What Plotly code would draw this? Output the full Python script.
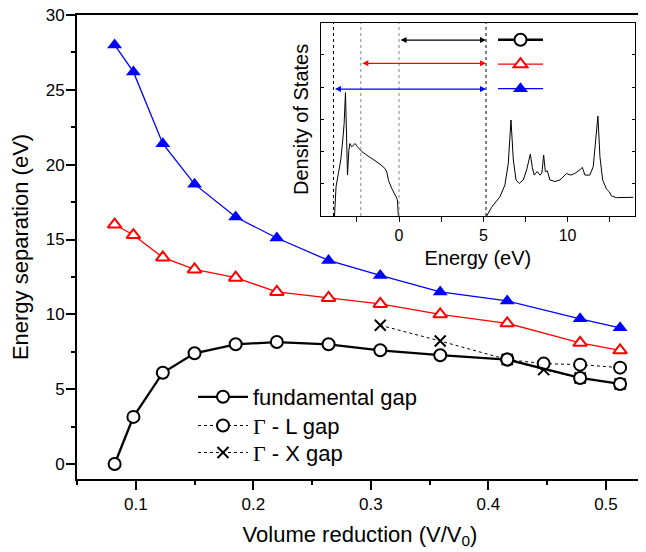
import plotly.graph_objects as go

# ---------------- data ----------------
volume = [0.082, 0.098, 0.123, 0.150, 0.185, 0.220, 0.264, 0.308, 0.359, 0.416, 0.478, 0.512]
gap_blue = [28.0, 26.2, 21.4, 18.7, 16.5, 15.1, 13.6, 12.6, 11.5, 10.9, 9.7, 9.1]
gap_red = [16.0, 15.3, 13.8, 13.0, 12.45, 11.5, 11.1, 10.7, 10.0, 9.4, 8.1, 7.6]
gap_fund = [0.0, 3.15, 6.1, 7.4, 8.0, 8.15, 8.0, 7.6, 7.27, 6.98, 5.75, 5.35]

volume_gl = [0.416, 0.447, 0.478, 0.512]
gap_gl = [6.98, 6.71, 6.64, 6.44]

volume_gx = [0.308, 0.359, 0.416, 0.447, 0.478, 0.512]
gap_gx = [9.27, 8.22, 6.98, 6.31, 5.75, 5.35]

GAMMA = '<span style="font-family:Liberation Serif, Times New Roman, serif">\u0393</span>'
legend_names = ["fundamental gap", GAMMA + " - L gap", GAMMA + " - X gap"]

# inset: density of states
dos_energy = [-3.83, -3.74, -3.60, -3.46, -3.34, -3.26, -3.18, -3.12, -3.06, -2.98, -2.92,
              -2.81, -2.61, -2.47, -2.21, -1.92, -1.52, -1.13, -0.83, -0.73, -0.63, -0.43,
              -0.18, -0.10, -0.04,
              None,
              5.20, 5.49, 5.99, 6.28, 6.48, 6.64, 6.78, 6.94, 7.13, 7.37, 7.57, 7.79, 7.91,
              8.02, 8.20, 8.36, 8.47, 8.58, 8.68, 8.80, 8.95, 9.25, 9.55, 9.74, 9.94, 10.18,
              10.43, 10.73, 10.87, 11.03, 11.32, 11.52, 11.68, 11.80, 11.92, 12.08, 12.31,
              12.47, 12.61, 12.90, 13.90]
dos_value = [0.0, 0.91, 1.32, 1.74, 2.36, 2.87, 3.83, 2.77, 1.27, 2.03, 2.25,
             2.15, 2.25, 2.15, 2.00, 1.89, 1.75, 1.61, 1.47, 1.37, 1.11, 0.85,
             0.60, 0.50, 0.0,
             None,
             0.0, 0.27, 0.60, 0.96, 1.63, 2.98, 1.74, 1.12, 1.01, 1.12, 1.43, 1.92, 1.50,
             1.27, 1.38, 1.27, 1.32, 1.89, 1.38, 1.40, 1.12, 1.07, 1.12, 1.22, 1.32, 1.27,
             1.32, 1.43, 1.51, 1.27, 1.27, 1.53, 2.36, 3.10, 1.84, 1.12, 0.83,
             0.75, 0.62, 0.57, 0.58]

level_energy = [-3.89, -2.27, 0.0, 5.16]
level_colour = ["black", "#888888", "#888888", "black"]

arrow_start = [0.0, -2.27, -3.89]
arrow_end = [5.16, 5.16, 5.16]
arrow_height = [5.46, 4.74, 3.94]
arrow_colour = ["black", "red", "blue"]

FONT = "Liberation Sans, Arial, sans-serif"

# page body has an 8px margin: the figure is sized so that it fits the 646x552 window
PAGE_OFF = 8
FIG_W, FIG_H = 646 - PAGE_OFF, 552 - PAGE_OFF
PLOT_L, PLOT_R, PLOT_T, PLOT_B = 77, 643, 15, 479  # window pixels of the main plot frame


def px(wx):
    return (wx - PLOT_L) / (PLOT_R - PLOT_L)


def py(wy):
    return (PLOT_B - wy) / (PLOT_B - PLOT_T)


fig = go.Figure()

# ---------------- main plot traces ----------------
fig.add_trace(go.Scatter(
    x=volume, y=gap_blue, mode="lines+markers", xaxis="x", yaxis="y",
    line=dict(color="blue", width=1.3),
    marker=dict(symbol="triangle-up", size=13, color="blue"),
    legend="legend2", name=" ", legendrank=3, showlegend=True))
fig.add_trace(go.Scatter(
    x=volume, y=gap_red, mode="lines+markers", xaxis="x", yaxis="y",
    line=dict(color="red", width=1.3),
    marker=dict(symbol="triangle-up", size=12, color="white", line=dict(color="red", width=2)),
    legend="legend2", name=" ", legendrank=2, showlegend=True))
fig.add_trace(go.Scatter(
    x=volume_gx, y=gap_gx, mode="lines+markers", xaxis="x", yaxis="y",
    line=dict(color="black", width=1, dash="dot"),
    marker=dict(symbol="x-thin", size=11, color="black", line=dict(color="black", width=2)),
    legend="legend4", name=legend_names[2]))
fig.add_trace(go.Scatter(
    x=volume_gl, y=gap_gl, mode="lines+markers", xaxis="x", yaxis="y",
    line=dict(color="black", width=1, dash="dot"),
    marker=dict(symbol="circle", size=12, color="white", line=dict(color="black", width=2)),
    legend="legend3", name=legend_names[1]))
fig.add_trace(go.Scatter(
    x=volume, y=gap_fund, mode="lines+markers", xaxis="x", yaxis="y",
    line=dict(color="black", width=2.3),
    marker=dict(symbol="circle", size=12, color="white", line=dict(color="black", width=2)),
    legend="legend", name=legend_names[0]))
# legend key for the inset (black circle line)
fig.add_trace(go.Scatter(
    x=[None], y=[None], mode="lines+markers", xaxis="x", yaxis="y",
    line=dict(color="black", width=2.3),
    marker=dict(symbol="circle", size=12, color="white", line=dict(color="black", width=2)),
    legend="legend2", name=" ", legendrank=1, showlegend=True))

# ---------------- inset traces ----------------
fig.add_trace(go.Scatter(
    x=dos_energy, y=dos_value, mode="lines", xaxis="x2", yaxis="y2",
    line=dict(color="black", width=1), showlegend=False, connectgaps=False))

shapes = []
for e, c in zip(level_energy, level_colour):
    shapes.append(dict(type="line", xref="x2", yref="y2 domain", x0=e, x1=e, y0=0, y1=1,
                       line=dict(color=c, width=1, dash="dot")))

annotations = []
for s, e, h, c in zip(arrow_start, arrow_end, arrow_height, arrow_colour):
    annotations.append(dict(
        xref="x2", yref="y2", axref="x2", ayref="y2",
        x=e, y=h, ax=s, ay=h, text="", showarrow=True,
        arrowhead=2, startarrowhead=2, arrowside="end+start",
        arrowsize=1, arrowwidth=1.2, arrowcolor=c, standoff=0, startstandoff=0))

# ---------------- layout ----------------
fig.update_layout(
    width=FIG_W, height=FIG_H,
    margin=dict(l=PLOT_L - PAGE_OFF, r=646 - PLOT_R, t=PLOT_T - PAGE_OFF,
                b=552 - PLOT_B, autoexpand=False),
    paper_bgcolor="white", plot_bgcolor="white",
    font=dict(family=FONT, color="black", size=17),
    shapes=shapes, annotations=annotations,
    xaxis=dict(
        domain=[0, 1], anchor="y", showgrid=False, zeroline=False,
        range=[0.05, 0.5315], tick0=0, dtick=0.1,
        showline=True, linecolor="black", linewidth=2, mirror=True,
        ticks="outside", ticklen=9, tickwidth=2, tickcolor="black",
        minor=dict(dtick=0.05, ticks="outside", ticklen=4, tickwidth=2, tickcolor="black"),
        tickfont=dict(size=17, color="black"), ticklabelstandoff=0,
        title=dict(text="Volume reduction (V/V<sub>0</sub>)", font=dict(size=22), standoff=13)),
    yaxis=dict(
        domain=[0, 1], anchor="x", showgrid=False, zeroline=False,
        range=[-1.0, 30.0], tick0=0, dtick=5,
        showline=True, linecolor="black", linewidth=2, mirror=True,
        ticks="outside", ticklen=9, tickwidth=2, tickcolor="black",
        minor=dict(dtick=2.5, ticks="outside", ticklen=4, tickwidth=2, tickcolor="black"),
        tickfont=dict(size=17, color="black"), ticklabelstandoff=-2,
        ticklabeloverflow="allow",
        title=dict(text="Energy separation (eV)", font=dict(size=22), standoff=13)),
    xaxis2=dict(
        domain=[px(320.7), px(635)], anchor="y2", showgrid=False, zeroline=False,
        range=[-4.65, 14.0], tick0=0, dtick=5,
        showline=True, linecolor="black", linewidth=1, mirror=True,
        ticks="outside", ticklen=5, tickwidth=1, tickcolor="black",
        minor=dict(dtick=2.5, ticks="outside", ticklen=5, tickwidth=1, tickcolor="black"),
        tickfont=dict(size=16, color="black"),
        title=dict(text="Energy (eV)", font=dict(size=20), standoff=7)),
    yaxis2=dict(
        domain=[py(216), py(22.7)], anchor="x2", showgrid=False, zeroline=False,
        range=[0, 6.0], dtick=1,
        showline=True, linecolor="black", linewidth=1, mirror="ticks",
        ticks="inside", ticklen=3, tickwidth=1, tickcolor="black", showticklabels=False,
        title=dict(text="Density of States", font=dict(size=20), standoff=5)),
    legend=dict(x=px(198 - 5), y=py(397), xanchor="left", yanchor="middle",
                bgcolor="rgba(0,0,0,0)", borderwidth=0, font=dict(size=22), itemwidth=50),
    legend3=dict(x=px(198 - 5), y=py(425.7), xanchor="left", yanchor="middle",
                 bgcolor="rgba(0,0,0,0)", borderwidth=0, font=dict(size=22), itemwidth=50),
    legend4=dict(x=px(198 - 5), y=py(452.7), xanchor="left", yanchor="middle",
                 bgcolor="rgba(0,0,0,0)", borderwidth=0, font=dict(size=22), itemwidth=50),
    legend2=dict(x=px(498 - 5), y=py(64.5), xanchor="left", yanchor="middle",
                 bgcolor="rgba(0,0,0,0)", borderwidth=0, font=dict(size=16.5), itemwidth=45,
                 traceorder="normal"),
)

fig.write_html("out.html")
